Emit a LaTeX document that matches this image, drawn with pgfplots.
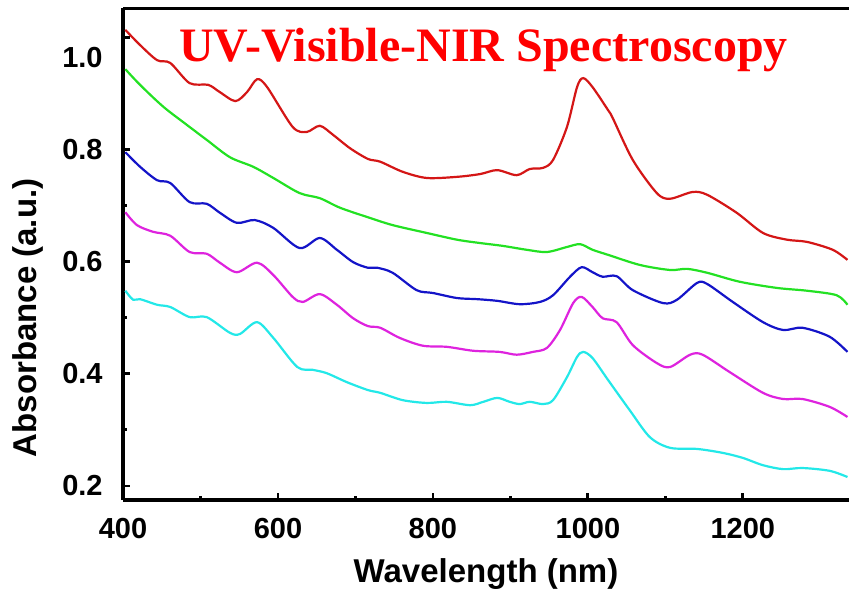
\documentclass[border=0pt]{standalone}
\usepackage{pgfplots}
\pgfplotsset{compat=1.18}
\usepackage{fontspec}
\setmainfont{Liberation Sans}
\newfontfamily\titlefont{Liberation Serif}
\definecolor{cRed}{RGB}{212,22,22}
\definecolor{cGreen}{RGB}{35,225,35}
\definecolor{cBlue}{RGB}{20,20,200}
\definecolor{cMag}{RGB}{222,35,222}
\definecolor{cCyan}{RGB}{35,232,232}
\definecolor{tRed}{RGB}{255,0,0}
\begin{document}
\begin{tikzpicture}
\useasboundingbox (0,0) rectangle (424.5pt,294pt);
\begin{axis}[
  at={(61.5pt,44pt)}, anchor=south west,
  width=363pt, height=246pt, scale only axis,
  xmin=400, xmax=1337, ymin=0.175, ymax=1.052,
  axis lines=left,
  axis line style={-, line width=1.6pt},
  tick align=inside,
  major tick length=3.5pt, minor tick length=2pt,
  every tick/.style={black, line width=1.4pt},
  xtick={400,600,800,1000,1200},
  minor x tick num=1,
  ytick={0.2,0.4,0.6,0.8},
  extra y ticks={1.0},
  extra y tick style={yticklabel style={yshift=-10pt}},
  minor y tick num=1,
  /pgf/number format/assume math mode=true,
  x tick label style={/pgf/number format/1000 sep={}},
  y tick label style={/pgf/number format/fixed, /pgf/number format/fixed zerofill, /pgf/number format/precision=1},
  ticklabel style={font=\fontsize{14.5}{17}\selectfont\bfseries},
  yticklabel style={anchor=east, inner sep=0pt, xshift=-10pt},
  xticklabel style={anchor=north, inner sep=0pt, yshift=-9pt},
  xlabel={Wavelength (nm)},
  ylabel={Absorbance (a.u.)},
  label style={font=\fontsize{16.5}{19}\selectfont\bfseries},
  xlabel style={at={(axis description cs:0.5,-0.1504)}, anchor=center},
  ylabel style={at={(axis description cs:-0.1309,0.37)}, anchor=center, rotate=0},
  every axis plot/.append style={line width=1.1pt, smooth, tension=0.5, no marks},
]
\addplot[cRed] coordinates {
(403,1.013)(422,0.986)(444,0.959)(461,0.954)(486,0.918)(510,0.915)(525,0.902)(545,0.886)(560,0.902)(573,0.925)(586,0.911)(619,0.840)(637,0.831)(654,0.842)(671,0.826)(693,0.802)(716,0.783)(732,0.778)(761,0.760)(792,0.749)(831,0.751)(861,0.756)(883,0.763)(908,0.754)(925,0.765)(942,0.767)(955,0.781)(973,0.840)(986,0.911)(994,0.927)(1006,0.911)(1026,0.870)(1032,0.856)(1058,0.781)(1089,0.722)(1106,0.712)(1135,0.724)(1154,0.719)(1192,0.687)(1226,0.651)(1257,0.639)(1283,0.635)(1316,0.621)(1335,0.603)};
\addplot[cGreen] coordinates {
(403,0.943)(422,0.915)(452,0.876)(483,0.843)(508,0.817)(538,0.786)(568,0.769)(594,0.749)(628,0.722)(654,0.713)(680,0.696)(716,0.679)(748,0.665)(792,0.651)(831,0.639)(861,0.633)(890,0.628)(921,0.621)(947,0.617)(973,0.626)(990,0.631)(1006,0.621)(1026,0.612)(1067,0.594)(1106,0.585)(1128,0.587)(1154,0.580)(1196,0.564)(1244,0.553)(1283,0.548)(1321,0.540)(1335,0.523)};
\addplot[cBlue] coordinates {
(403,0.795)(422,0.769)(444,0.745)(461,0.740)(486,0.706)(508,0.703)(525,0.687)(547,0.669)(570,0.674)(594,0.660)(628,0.624)(654,0.642)(676,0.621)(697,0.599)(716,0.589)(728,0.589)(748,0.580)(779,0.549)(800,0.544)(831,0.535)(857,0.533)(883,0.530)(912,0.524)(938,0.528)(955,0.540)(977,0.573)(992,0.590)(1006,0.581)(1019,0.573)(1037,0.574)(1058,0.549)(1097,0.526)(1115,0.532)(1141,0.562)(1154,0.560)(1187,0.528)(1226,0.492)(1252,0.478)(1277,0.482)(1312,0.466)(1335,0.439)};
\addplot[cMag] coordinates {
(403,0.688)(418,0.665)(439,0.653)(461,0.646)(486,0.617)(508,0.614)(525,0.598)(547,0.581)(573,0.598)(594,0.576)(619,0.537)(632,0.528)(654,0.542)(676,0.523)(697,0.499)(716,0.485)(732,0.482)(757,0.464)(787,0.450)(818,0.448)(852,0.441)(886,0.439)(908,0.434)(929,0.439)(947,0.446)(964,0.478)(981,0.526)(992,0.537)(1006,0.519)(1019,0.499)(1037,0.492)(1058,0.451)(1089,0.419)(1106,0.412)(1132,0.434)(1148,0.434)(1183,0.403)(1226,0.366)(1252,0.355)(1277,0.355)(1312,0.341)(1335,0.323)};
\addplot[cCyan] coordinates {
(403,0.548)(413,0.532)(422,0.533)(444,0.523)(461,0.519)(486,0.501)(508,0.501)(538,0.473)(551,0.471)(573,0.492)(594,0.464)(625,0.412)(645,0.407)(663,0.401)(689,0.385)(716,0.371)(732,0.366)(761,0.353)(792,0.348)(818,0.350)(848,0.344)(865,0.350)(883,0.357)(899,0.350)(912,0.346)(925,0.350)(942,0.346)(955,0.353)(973,0.394)(986,0.430)(994,0.439)(1006,0.428)(1026,0.389)(1054,0.335)(1080,0.287)(1106,0.268)(1141,0.266)(1174,0.259)(1200,0.250)(1226,0.237)(1252,0.230)(1277,0.232)(1312,0.227)(1335,0.216)};
\draw[line width=1.6pt] (rel axis cs:0,1) -- (rel axis cs:1,1);
\end{axis}
\node[anchor=base, text=tRed, inner sep=0pt, font=\titlefont\fontsize{24}{29}\selectfont\bfseries] at (241.75pt,263pt) {UV-Visible-NIR Spectroscopy};
\end{tikzpicture}
\end{document}
